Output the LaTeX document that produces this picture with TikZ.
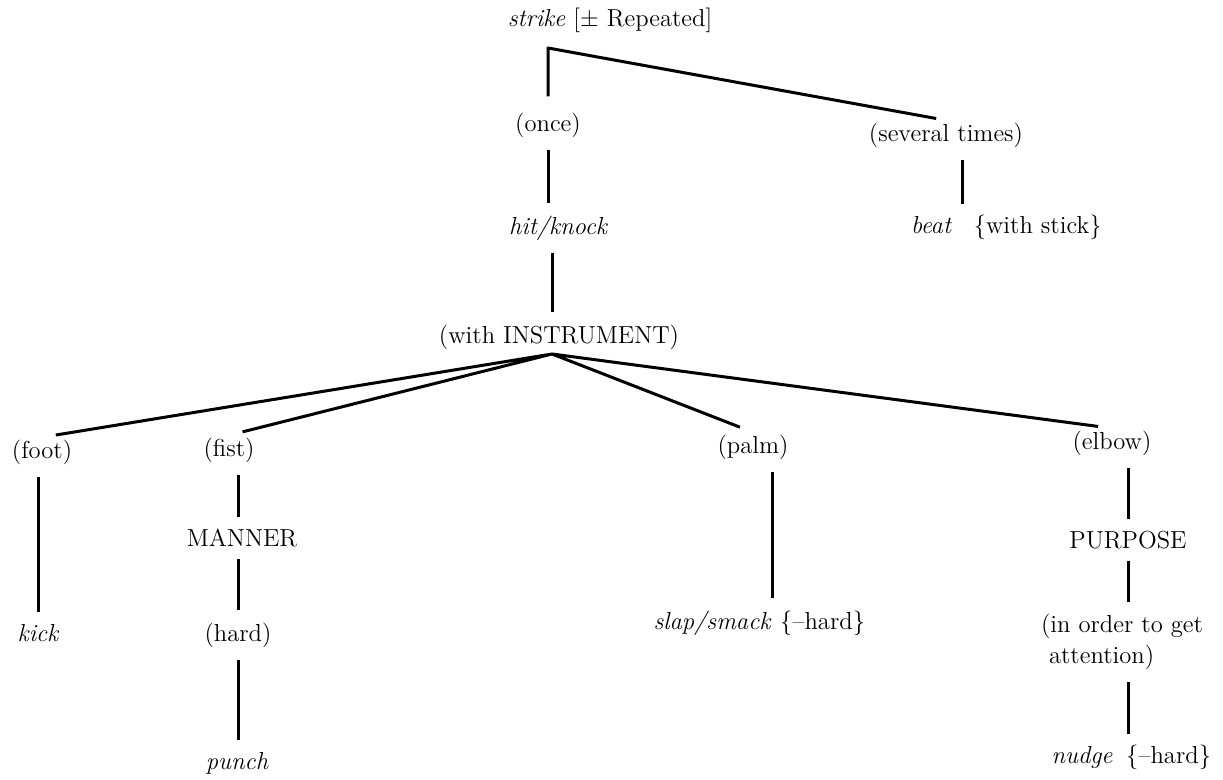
\documentclass[tikz,border=0pt]{standalone}
\usetikzlibrary{calc}

\begin{document}
\begin{tikzpicture}[x=0.5pt, y=-0.5pt,
	every node/.style={font=\fontsize{12.3}{15.5}\selectfont, inner sep=1pt},
	word/.style={font=\fontsize{12.3}{15.5}\selectfont\itshape},
	edge/.style={line width=1.5pt, line join=round, shorten <=5pt, shorten >=5pt}]
	\useasboundingbox (0,0) rectangle (1223,780);

	\coordinate (top) at (548,48);
	\coordinate (fork) at (552,354);

	\node (strike) at (610,20) {\textit{strike} [$\pm$ Repeated]};

	\node (once) at (548,125) {(once)};
	\node (several) at (946,135) {(several times)};

	\node[word] (hit) at (558,228) {hit/knock};
	\node[word] (beat) at (931,225) {beat};
	\node[anchor=base west] (beatnote) at ([xshift=9pt]beat.base east) {\{with stick\}};

	\node (instr) at (559,337) {(with INSTRUMENT)};

	\node (foot) at (42,452) {(foot)};
	\node (fist) at (229,450) {(fist)};
	\node (palm) at (753,447) {(palm)};
	\node (elbow) at (1112,443) {(elbow)};

	\node[word] (kick) at (38,633) {kick};
	\node (manner) at (242,538) {MANNER};
	\node (hard) at (238,635) {(hard)};
	\node[word] (punch) at (237,763) {punch};

	\node[word] (slap) at (712,623) {slap/smack};
	\node[anchor=base west] (slapnote) at ([xshift=2.5pt]slap.base east) {\{--hard\}};

	\node (purpose) at (1128,540) {PURPOSE};
	\node[align=left] (order) at (1122,642) {(in order to get\\\hspace*{4pt}attention)};
	\node[word] (nudge) at (1082,757) {nudge};
	\node[anchor=base west] (nudgenote) at ([xshift=4.5pt]nudge.base east) {\{--hard\}};

	% upper part
	\draw[edge, shorten <=7pt] (once.north) -- (top) -- (several.north);
	\draw[edge] (once.south) -- (hit.north -| once);
	\draw[edge] (hit.south -| fork) -- (instr.north -| fork);
	\coordinate (bj) at ($(beat.east)!.5!(beatnote.west)$);
	\draw[edge] (several.south -| bj) -- (beat.north -| bj);

	% instruments
	\draw[edge, shorten <=7pt, shorten >=7pt] (foot.north) -- (fork) -- (fist.north);
	\draw[edge, shorten <=7pt, shorten >=7pt] (palm.north) -- (fork) -- (elbow.north);

	\draw[edge] (foot.south -| kick) -- (kick.north);
	\draw[edge] (fist.south -| hard) -- (manner.north -| hard);
	\draw[edge] (manner.south -| hard) -- (hard.north);
	\draw[edge] (hard.south) -- (punch.north -| hard);
	\draw[edge] (palm.south -| slap.north east) -- (slap.north east);
	\draw[edge] (elbow.south -| purpose) -- (purpose.north);
	\draw[edge] (purpose.south) -- (order.north -| purpose);
	\draw[edge] (order.south -| purpose) -- (nudge.north -| purpose);
\end{tikzpicture}
\end{document}
